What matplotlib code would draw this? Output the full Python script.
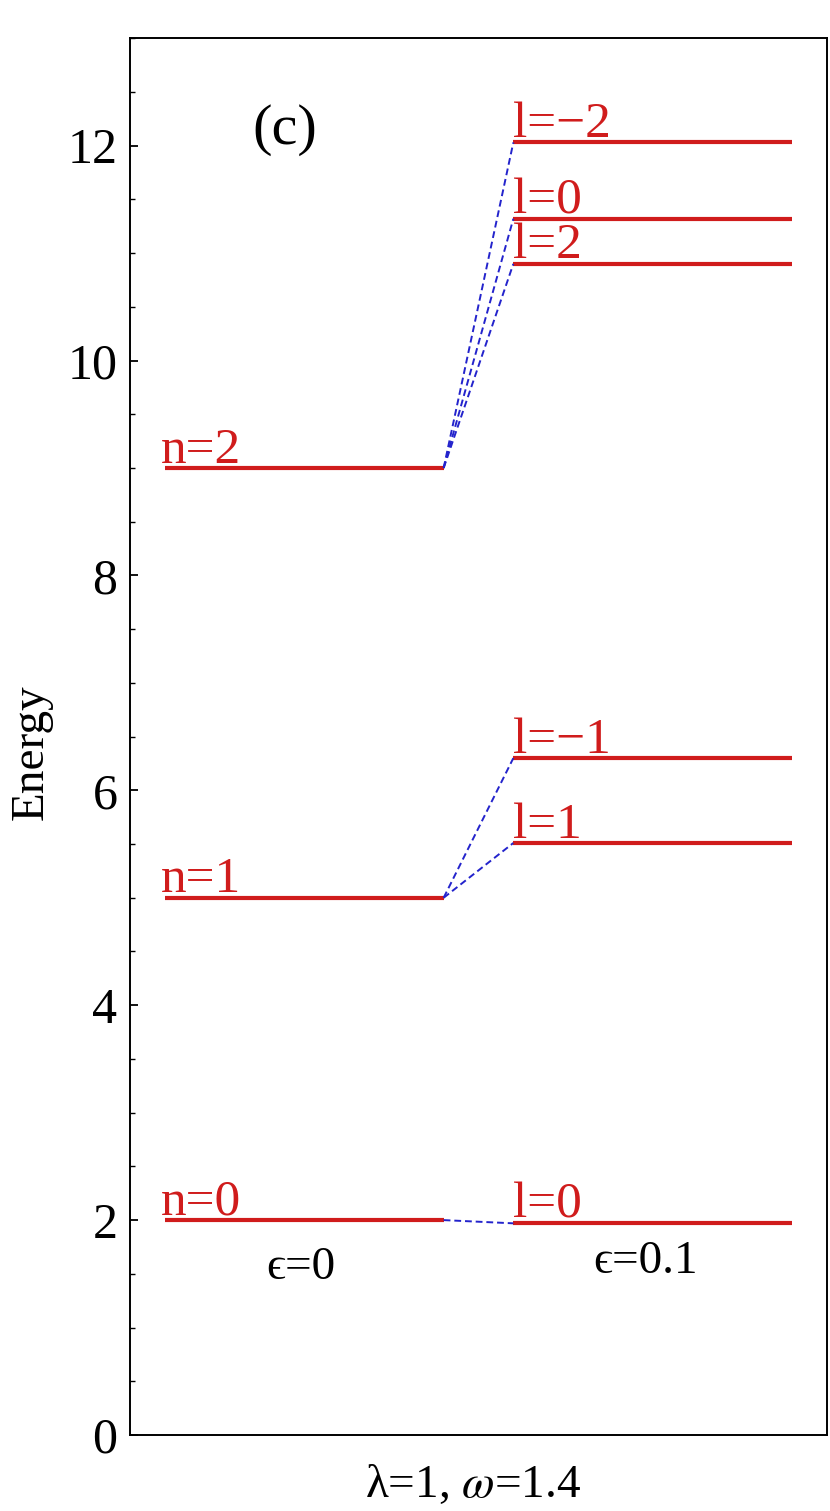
import matplotlib
matplotlib.use("Agg")
import matplotlib.pyplot as plt
from matplotlib.ticker import MultipleLocator

plt.rcParams['font.family'] = ['Liberation Serif', 'DejaVu Serif']
plt.rcParams['mathtext.fontset'] = 'stix'

# unperturbed levels (epsilon = 0)
n_labels = ['n=0', 'n=1', 'n=2']
n_energy = [2.0, 5.0, 9.0]

# split levels (epsilon = 0.1), parent index into n_energy
l_labels = ['l=0', 'l=1', 'l=\u22121', 'l=2', 'l=0', 'l=\u22122']
l_energy = [1.97, 5.51, 6.30, 10.90, 11.32, 12.03]
l_parent = [0, 1, 1, 2, 2, 2]

red = '#d01c1c'
blue = '#2323cc'

fig = plt.figure(figsize=(8.3, 15.11), dpi=100)
ax = fig.add_axes([0.1566, 0.0503, 0.8398, 0.9244])

for lab, e in zip(n_labels, n_energy):
    ax.plot([0.1, 0.9], [e, e], color=red, lw=3.0, solid_capstyle='butt')
    ax.text(0.09, e + 0.05, lab, color=red, fontsize=37, va='baseline', ha='left')

for lab, e, p in zip(l_labels, l_energy, l_parent):
    ax.plot([1.1, 1.9], [e, e], color=red, lw=3.0, solid_capstyle='butt')
    ax.plot([0.9, 1.1], [n_energy[p], e], color=blue, lw=1.4, ls=(0, (3.5, 2)))
    ax.text(1.1, e + 0.05, lab, color=red, fontsize=37, va='baseline', ha='left')

ax.text(0.445, 12.15, '(c)', fontsize=42, ha='center', va='center')
ax.text(0.49, 1.56, '\u03f5=0', fontsize=34, ha='center', va='center')
ax.text(1.48, 1.61, '\u03f5=0.1', fontsize=34, ha='center', va='center')

ax.set_xlim(0, 2)
ax.set_ylim(0, 13)
ax.set_xticks([])
ax.yaxis.set_major_locator(MultipleLocator(2))
ax.yaxis.set_minor_locator(MultipleLocator(0.5))
ax.tick_params(axis='y', which='major', direction='in', length=6, width=1.3,
               labelsize=36, pad=9)
ax.tick_params(axis='y', which='minor', direction='in', length=3.5, width=1.0)
for s in ax.spines.values():
    s.set_linewidth(1.4)

fig.text(0.038, 0.5023, 'Energy', rotation=90, fontsize=34, ha='center', va='center')
fig.text(0.570, 0.017, '\u03bb=1, $\\omega$=1.4', fontsize=34, ha='center', va='center')

fig.savefig('out.png', dpi=100)
